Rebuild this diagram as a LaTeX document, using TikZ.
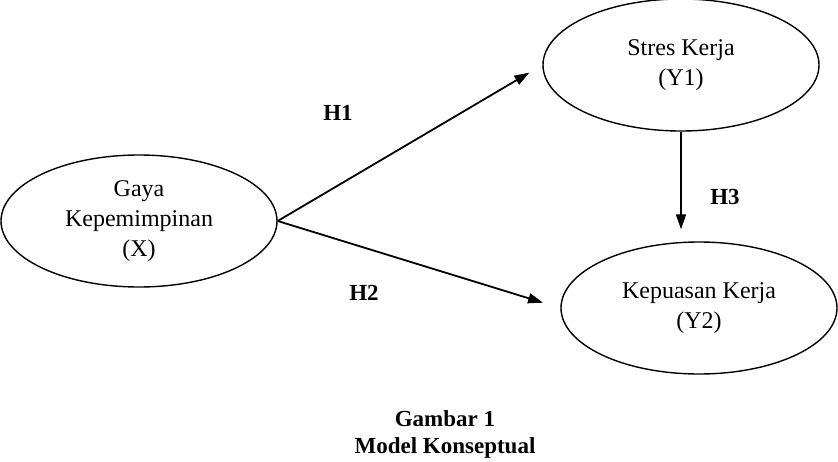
\documentclass[tikz,border=0pt]{standalone}
\usepackage{fontspec}
\setmainfont{Liberation Serif}
\usetikzlibrary{shapes.geometric, positioning, arrows.meta}

\begin{document}
\begin{tikzpicture}[x=1pt, y=1pt, on grid, thick,
    var node/.style={ellipse, draw, line width=1.4pt, minimum width=276pt,
                     minimum height=132pt, align=center,
                     font=\fontsize{24}{30}\selectfont},
    hyp node/.style={font=\fontsize{23}{27}\selectfont\bfseries, align=center},
    path arrow/.style={-{Triangle[length=15pt, width=10pt]}, line width=1.8pt}]

    \useasboundingbox (0,0) rectangle (838,-461);

    \node[var node] (X)  at (139,-221)                   {Gaya\\Kepemimpinan\\(X)};
    \node[var node] (Y1) [above right=156pt and 542pt of X] {Stres Kerja\\(Y1)};
    \node[var node] (Y2) [below right=87pt and 560pt of X]  {Kepuasan Kerja\\(Y2)};

    \node[hyp node] (h1) at (338,-113) {H1};
    \node[hyp node] (h2) at (364,-293) {H2};
    \node[hyp node] (h3) at (725,-197) {H3};

    \path[path arrow]
    (X.east)   edge[shorten >=15pt] (Y1.west)
    (X.east)   edge[shorten >=18pt] (Y2.west)
    (Y1.south) edge[shorten >=12pt] (Y1.south |- Y2.north);

    \node[hyp node] (cap) at (445,-434) {Gambar 1\\Model Konseptual};
  \end{tikzpicture}
\end{document}
